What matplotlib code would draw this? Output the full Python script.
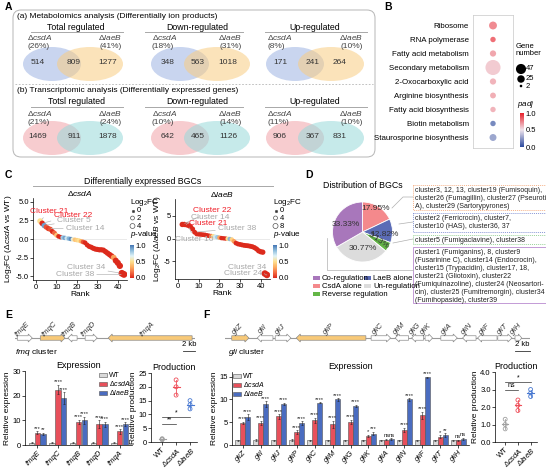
import numpy as np
import matplotlib
matplotlib.use('Agg')
import matplotlib.pyplot as plt
from matplotlib.patches import Ellipse, FancyBboxPatch, Rectangle, FancyArrow
from matplotlib.colors import LinearSegmentedColormap, Normalize
from matplotlib.cm import ScalarMappable

plt.rcParams['font.family'] = ['Liberation Sans', 'DejaVu Sans']
plt.rcParams['font.size'] = 5.5
plt.rcParams['mathtext.fontset'] = 'custom'
plt.rcParams['mathtext.rm'] = 'Liberation Sans'
plt.rcParams['mathtext.it'] = 'Liberation Sans:italic'
plt.rcParams['axes.linewidth'] = 0.5

# ---------------- data ----------------
venn_titles_a = ['Total regulated', 'Down-regulated', 'Up-regulated']
venn_titles_b = ['Totsl regulated', 'Down-regulated', 'Up-regulated']
metab_counts = [(514, 809, 1277), (348, 563, 1018), (171, 241, 264)]
metab_pct = [(26, 41), (18, 31), (8, 10)]
trans_counts = [(1469, 911, 1878), (642, 465, 1126), (906, 367, 831)]
trans_pct = [(21, 24), (10, 14), (11, 10)]

kegg_terms = ['Ribosome', 'RNA polymerase', 'Fatty acid metabolism', 'Secondary metabolism',
              '2-Oxocarboxylic acid', 'Arginine biosynthesis', 'Fatty acid biosynthesis',
              'Biotin metabolism', 'Staurosporine biosynthesis']
kegg_genes = [12, 5, 7, 47, 7, 6, 5, 5, 9]
kegg_padj = [0.85, 0.95, 0.75, 0.62, 0.7, 0.72, 0.7, 0.05, 0.18]

rank = np.arange(2, 44)
fc_csda = [2.4, 2.1, 1.8, 1.6, 1.4, 1.3, 1.0, 0.8, 0.5, 0.35, 0.25, 0.2, 0.15, 0.1,
           0.05, 0.0, -0.05, -0.1, -0.15, -0.2, -0.3, -0.4, -0.5, -0.8, -1.0, -1.1,
           -1.25, -1.35, -1.4, -1.45, -1.45, -1.5, -1.7, -1.9, -2.1, -2.3, -2.5, -2.9,
           -3.2, -3.6, -4.6, -4.75]
p_csda = [0.5, 0.0, 0.9, 0.1, 0.05, 0.1, 0.0, 0.15, 0.4, 0.0, 0.0, 0.8, 0.9, 0.7,
          0.85, 0.95, 0.6, 0.4, 0.45, 0.5, 0.35, 0.1, 0.0, 0.0, 0.0, 0.0,
          0.0, 0.0, 0.0, 0.0, 0.0, 0.0, 0.0, 0.0, 0.0, 0.0, 0.3, 0.0,
          0.0, 0.0, 0.0, 0.0]
fc_laeb = [3.1, 3.1, 3.05, 2.9, 2.6, 2.1, 1.4, 1.0, 0.95, 0.9, 0.85, 0.8, 0.7, 0.6,
           0.55, 0.5, 0.4, 0.3, 0.2, 0.1, 0.05, 0.0, -0.05, -0.1, -0.2, -0.6,
           -1.0, -1.2, -1.3, -1.4, -1.5, -1.55, -1.6, -1.7, -1.8, -2.0, -2.3, -2.7,
           -2.9, -3.0, -7.7, -8.0]
p_laeb = [0.0, 0.0, 0.0, 0.0, 0.0, 0.0, 0.0, 0.0, 0.0, 0.0, 0.0, 0.0, 0.0, 0.0,
          0.2, 0.5, 0.7, 0.8, 0.3, 0.0, 0.0, 0.0, 0.5, 0.85, 0.45, 0.3,
          0.0, 0.0, 0.0, 0.0, 0.0, 0.0, 0.0, 0.0, 0.0, 0.0, 0.0, 0.0,
          0.0, 0.0, 0.0, 0.0]
notes_csda = [('Cluster 21', 2, 'r', (6.5, 3.7)), ('Cluster 22', 3, 'r', (18, 3.2)),
              ('Cluster 5', 4, 'g', (18.5, 2.5)), ('Cluster 14', 6, 'g', (24, 1.45)),
              ('Cluster 34', 42, 'g', (24.5, -3.85)), ('Cluster 38', 43, 'g', (19, -4.8))]
notes_laeb = [('Cluster 22', 2, 'r', (16.7, 6.1)), ('Cluster 14', 3, 'g', (15.7, 4.6)),
              ('Cluster 21', 4, 'r', (14.8, 3.3)), ('Cluster 38', 8, 'g', (28.6, 2.2)),
              ('Cluster 10', 5, 'g', (7.6, -0.1)), ('Cluster 34', 42, 'g', (33.3, -6.3)),
              ('Cluster 24', 43, 'g', (31.4, -7.6))]

pie_labels = ['CsdA alone', 'LaeB alone', 'Reverse regulation', 'Un-regulation', 'Co-regulation']
pie_values = [17.95, 12.82, 5.13, 30.77, 33.33]
pie_colors = ['#f4898c', '#5b6cb6', '#63b646', '#dcdcdc', '#a877bb']
box_texts = ['cluster3, 12, 13, cluster19 (Fumisoquin),\ncluster26 (Fumagillin), cluster27 (Pseurotin\nA), cluster29 (Sartorypyrones)',
             'cluster2 (Ferricrocin), cluster7,\ncluster10 (HAS), cluster36, 37',
             'cluster5 (Fumigaclavine), cluster38',
             'cluster1 (Fumiganins), 8, cluster9\n(Fusarinine C), cluster14 (Endocrocin),\ncluster15 (Trypacidin), cluster17, 18,\ncluster21 (Gliotoxin), cluster22\n(Fumiquinazoline), cluster24 (Neosartori-\ncin), cluster25 (Fumitremorgin), cluster34\n(Fumihopaside), cluster39']

fmq_genes = ['fmqE', 'fmqC', 'fmqB', 'fmqD', 'fmqA']
fmq_start = [0.4, 4.4, 9.2, 12.2, 16.2]
fmq_end = [3.0, 8.7, 10.8, 14.3, 30.8]
fmq_strand = [1, 1, -1, 1, -1]
fmq_core = [0, 1, 0, 0, 1]
fmq_wt = [1.0, 1.0, 1.0, 1.0, 1.0]
fmq_csda = [5.0, 22.5, 9.5, 8.5, 5.5]
fmq_laeb = [4.5, 19.0, 10.0, 8.5, 8.5]
fmq_sd_wt = [0.2, 0.3, 0.2, 0.2, 0.2]
fmq_sd_csda = [0.6, 2.0, 0.8, 1.5, 1.0]
fmq_sd_laeb = [0.4, 2.5, 1.5, 1.0, 0.8]
fmq_star_csda = ['***', '****', '****', '****', '****']
fmq_star_laeb = ['**', '****', '****', '****', '****']
fmq_prod = [[0.8, 1.0, 1.2], [17.0, 20.0, 22.5], [12.0, 13.5, 15.0]]

gli_genes = ['gliZ', 'gliI', 'gliJ', 'gliP', 'gliC', 'gliM', 'gliG', 'gliK', 'gliA',
             'gliN', 'gliF', 'gliT', 'gliH']
gli_start = [0.9, 4.3, 6.7, 9.5, 19.5, 22.7, 24.9, 26.7, 28.8, 31.7, 33.7, 36.4, 38.7]
gli_end = [3.2, 6.4, 8.8, 18.8, 22.1, 24.5, 26.5, 27.7, 31.0, 33.5, 36.3, 38.3, 39.6]
gli_strand = [1, -1, 1, -1, 1, -1, -1, 1, 1, -1, -1, 1, 1]
gli_core = [1, 0, 0, 1, 0, 0, 0, 0, 0, 0, 0, 0, 0]
gli_wt = [1.0, 1.1, 1.0, 1.1, 1.0, 1.0, 1.0, 1.0, 1.0, 1.0, 1.0, 1.0, 1.0]
gli_csda = [4.8, 4.8, 6.3, 2.8, 5.4, 4.5, 5.0, 2.0, 1.2, 3.3, 6.5, 1.8, 1.0]
gli_laeb = [6.1, 9.0, 9.0, 4.8, 9.3, 10.0, 8.6, 2.5, 1.3, 10.0, 14.8, 2.2, 1.3]
gli_sd_wt = [0.2] * 13
gli_sd_csda = [0.3, 0.5, 0.5, 0.4, 0.6, 0.8, 0.5, 0.3, 0.2, 0.5, 0.8, 0.3, 0.2]
gli_sd_laeb = [0.6, 0.6, 0.3, 0.4, 0.1, 0.3, 0.2, 0.4, 0.2, 0.3, 0.2, 0.4, 0.3]
gli_star_csda = ['****'] * 7 + ['*', 'ns', '****', '****', '*', 'ns']
gli_star_laeb = ['****'] * 7 + ['***', 'ns', '****', '****', '**', 'ns']
gli_prod = [[0.75, 1.0, 1.3], [1.8, 2.1, 2.4], [2.6, 2.8, 3.0]]

strain_labels = ['WT', 'Δ$\\it{csdA}$', 'Δ$\\it{laeB}$']
strain_colors = ['#d9d9d9', '#e8505b', '#4a6cc0']
dot_colors = ['#a0a0a0', '#ef4f5a', '#4a7ad2']

# ---------------- figure ----------------
W, H = 546, 469
fig = plt.figure(figsize=(W / 100, H / 100), dpi=100)


def px_axes(x0, y0, x1, y1):
    return fig.add_axes([x0 / W, 1 - y1 / H, (x1 - x0) / W, (y1 - y0) / H])


def style(ax):
    ax.tick_params(labelsize=5.5, length=2, width=0.5, pad=1)
    for s in ['top', 'right']:
        ax.spines[s].set_visible(False)


ov = fig.add_axes([0, 0, 1, 1])
ov.set_xlim(0, W)
ov.set_ylim(H, 0)
ov.axis('off')

for lab, x, y in [('A', 5, 7), ('B', 384, 7), ('C', 5, 175), ('D', 305, 175), ('E', 5, 315), ('F', 203, 315)]:
    ov.text(x, y, lab, fontsize=7.5, fontweight='bold', va='center')

# ---------------- A: venns ----------------
ov.add_patch(FancyBboxPatch((13, 10), 362, 147, boxstyle='round,pad=0,rounding_size=8',
                            fc='none', ec='#b5b5b5', lw=0.7))
ov.plot([15, 373], [84, 84], color='#b5b5b5', lw=0.6, ls=(0, (2, 2)))
ov.text(17, 16, '(a) Metabolomics analysis (Differentially ion products)', fontsize=6, va='center')
ov.text(17, 91, '(b) Transcriptomic analysis (Differentially expressed genes)', fontsize=6, va='center')

col_title_x = [76, 197, 315]
col_line = [(31, 123), (145, 243), (265, 367)]
col_ell = [(52, 90), (180, 217), (295, 331)]
col_num = [(38, 74, 108), (168, 198, 228), (280, 313, 340)]
col_lab = [(27, 122), (152, 242), (267, 363)]
rows = [
    dict(titles=venn_titles_a, counts=metab_counts, pct=metab_pct, ty=27, ly=32, ny=64,
         c1='#9db3e3', c2='#f9cd82'),
    dict(titles=venn_titles_b, counts=trans_counts, pct=trans_pct, ty=102, ly=107, ny=138,
         c1='#f2a2a9', c2='#97d9da'),
]
for r in rows:
    for i in range(3):
        ov.text(col_title_x[i], r['ty'], r['titles'][i], fontsize=6.3, ha='center', va='center')
        ov.plot(col_line[i], [r['ly'], r['ly']], color='#a8a8a8', lw=0.7)
        ov.add_patch(Ellipse((col_ell[i][0], r['ny']), 58, 34, fc=r['c1'], alpha=0.55, lw=0))
        ov.add_patch(Ellipse((col_ell[i][1], r['ny']), 66, 34, fc=r['c2'], alpha=0.55, lw=0))
        for x, v in zip(col_num[i], r['counts'][i]):
            ov.text(x, r['ny'] - 1, str(v), fontsize=6, ha='center', va='center', color='#333333')
        ov.text(col_lab[i][0], r['ly'] + 6, 'Δ$\\it{csdA}$', fontsize=6, va='center', color='#444444')
        ov.text(col_lab[i][0], r['ly'] + 15, '(%d%%)' % r['pct'][i][0], fontsize=6, va='center', color='#444444')
        ov.text(col_lab[i][1], r['ly'] + 6, 'Δ$\\it{laeB}$', fontsize=6, va='center', ha='right', color='#444444')
        ov.text(col_lab[i][1], r['ly'] + 15, '(%d%%)' % r['pct'][i][1], fontsize=6, va='center', ha='right', color='#444444')

# ---------------- B: KEGG bubbles ----------------
padj_cmap = LinearSegmentedColormap.from_list('padj', ['#2b4a9e', '#efe4ec', '#e8202a'])
ax_b = px_axes(473, 15, 513, 148)
gsize = lambda n: 3 + 115 * np.asarray(n) / 47.0
ax_b.scatter(np.ones(len(kegg_terms)), np.arange(len(kegg_terms)), s=gsize(kegg_genes),
             c=kegg_padj, cmap=padj_cmap, vmin=0, vmax=1, alpha=0.7, edgecolors='none')
ax_b.set_xlim(0, 2)
ax_b.set_ylim(len(kegg_terms) - 0.25, -0.75)
ax_b.set_xticks([])
ax_b.set_yticks(np.arange(len(kegg_terms)))
ax_b.set_yticklabels(kegg_terms)
ax_b.tick_params(labelsize=5.7, length=0, pad=3)
for s in ax_b.spines.values():
    s.set_color('#c8c8c8')
ov.text(516, 50, 'Gene\nnumber', fontsize=5.5, va='center', linespacing=1.1)
for n, y in zip([47, 25, 2], [69, 79, 86]):
    ov.scatter([521], [y], s=0.45 * gsize(n), color='black', edgecolors='none')
    ov.text(526, y, str(n), fontsize=5.5, va='center')
ov.text(517, 104, '$\\it{padj}$', fontsize=5.8, va='center')
cax_b = px_axes(520, 113, 524, 147)
cb = fig.colorbar(ScalarMappable(Normalize(0, 1), padj_cmap), cax=cax_b, ticks=[0, 0.5, 1])
cb.outline.set_visible(False)
cb.ax.tick_params(labelsize=5.5, length=0, pad=1)
cb.ax.set_yticklabels(['0.0', '0.5', '1.0'])

# ---------------- C: BGC rank plots ----------------
ov.text(143, 181, 'Differentially expressed BGCs', fontsize=6.3, ha='center', va='center')
ov.plot([33, 273], [186, 186], color='#a8a8a8', lw=0.7)
pcmap = LinearSegmentedColormap.from_list('pv', ['#dc2a1c', '#f46d43', '#fdae61', '#fee090',
                                                 '#e0f3f8', '#8fbedc', '#4575b4'])


def rank_plot(ax, fc, pv, notes, ylim, yt, ytl, gene, kfc):
    fc = np.asarray(fc)
    ax.axhline(0, color='#e6e6e6', lw=0.6, zorder=0)
    ax.scatter(rank, fc, s=10 + kfc * np.abs(fc), c=pv, cmap=pcmap, vmin=0, vmax=1,
               edgecolors='none', zorder=2)
    for lab, rk, col, pos in notes:
        ax.annotate(lab, xy=(rk, fc[rk - 2]), xytext=pos, ha='center', va='center', fontsize=6,
                    color='#f0202a' if col == 'r' else '#a8a8a8',
                    arrowprops=dict(arrowstyle='-', color='#b8b8b8', lw=0.5, shrinkA=0, shrinkB=2))
    ax.set_xlim(-1.5, 44.5)
    ax.set_ylim(*ylim)
    ax.set_xticks([0, 10, 20, 30, 40])
    ax.set_yticks(yt)
    ax.set_yticklabels(ytl)
    style(ax)
    ax.set_xlabel('Rank', fontsize=6, labelpad=0)
    ax.set_ylabel('Log$_2$FC (Δ$\\it{%s}$ vs WT)' % gene, fontsize=6, labelpad=1)
    ax.set_title('Δ$\\it{%s}$' % gene, fontsize=6, pad=0.5)


ax_c1 = px_axes(33, 198, 127, 280)
rank_plot(ax_c1, fc_csda, p_csda, notes_csda, (-5.5, 5.5), [-5, -2.5, 0, 2.5, 5],
          ['-5.0', '-2.5', '0.0', '2.5', '5.0'], 'csdA', 3.0)
ax_c2 = px_axes(175, 199, 270, 279)
rank_plot(ax_c2, fc_laeb, p_laeb, notes_laeb, (-8.9, 8.7), [-5, 0, 5], ['-5', '0', '5'], 'laeB', 1.6)

for x0, levels, kfc in [(130, [0, 2, 4], 3.0), (273, [0, 4, 8], 1.6)]:
    ov.text(x0, 202, 'Log$_2$FC', fontsize=5.8, va='center')
    for v, y in zip(levels, [211, 218, 226]):
        ov.scatter([x0 + 2.5], [y], s=3 + 0.8 * kfc * v, facecolors='none' if v else '#333333',
                   edgecolors='#555555', lw=0.5)
        ov.text(x0 + 7, y, str(v), fontsize=5.5, va='center')
    ov.text(x0, 235, '$\\it{p}$-value', fontsize=5.8, va='center')
    cax = px_axes(x0, 245, x0 + 4, 278)
    cbc = fig.colorbar(ScalarMappable(Normalize(0, 1), pcmap), cax=cax, ticks=[0, 0.5, 1])
    cbc.outline.set_visible(False)
    cbc.ax.tick_params(labelsize=5.5, length=0, pad=1)
    cbc.ax.set_yticklabels(['0.0', '0.5', '1.0'])

# ---------------- D: pie ----------------
ov.text(363, 185, 'Distribution of BGCs', fontsize=6.3, ha='center', va='center')
ax_d = px_axes(325, 194, 400, 270)
ax_d.set_facecolor('none')
wedges, _, autot = ax_d.pie(pie_values, colors=pie_colors, startangle=90, counterclock=False,
                            autopct='%.2f%%', pctdistance=0.6,
                            wedgeprops=dict(edgecolor='white', lw=0.6),
                            textprops=dict(fontsize=6, color='#333333'))
ax_d.set_aspect('equal')
autot[0].set_position((0.45, 0.78))
autot[1].set_position((0.74, -0.1))
autot[2].set_position((0.52, -0.3))
autot[2].set_rotation(-35)
autot[3].set_position((0.0, -0.55))
autot[4].set_position((-0.55, 0.25))

box_y = [(185, 210), (213, 232), (235, 244), (247, 303)]
box_ec = ['#f6b38a', '#8a98d6', '#9ad49a', '#c39ad6']
box_ls = [(0, (1, 1)), (0, (1, 1)), (0, (1, 1)), '-']
for (y0, y1), ec, ls, t in zip(box_y, box_ec, box_ls, box_texts):
    ov.add_patch(Rectangle((413, y0), 134, y1 - y0, fc='none', ec=ec, lw=0.7, ls=ls))
    ov.text(415, y0 + 1.5, t, fontsize=5.0, va='top', linespacing=1.2, color='#222222')
ov.plot([392, 403, 413], [208, 197, 197], color='#b0b0b0', lw=0.5)
ov.plot([399, 413], [224, 222], color='#b0b0b0', lw=0.5)
ov.plot([393, 413], [243, 239], color='#b0b0b0', lw=0.5)
ov.plot([327, 327, 413], [238, 270, 270], color='#b0b0b0', lw=0.5)

leg_pos = {4: (313, 278), 0: (313, 286), 2: (313, 294), 1: (364, 278), 3: (364, 286)}
for i, (x, y) in leg_pos.items():
    ov.add_patch(Rectangle((x, y - 2), 7, 4, fc=pie_colors[i], lw=0))
    ov.text(x + 9, y, pie_labels[i], fontsize=5.6, va='center')


# ---------------- E / F ----------------
def draw_cluster(ax, names, starts, ends, strands, core, length, hl):
    ax.plot([0, length], [0, 0], color='#9a9a9a', lw=0.8, zorder=1)
    for n, s, e, d, c in zip(names, starts, ends, strands, core):
        x0 = s if d > 0 else e
        ax.add_patch(FancyArrow(x0, 0, d * (e - s), 0, width=0.9, head_width=1.6,
                                head_length=min(hl, 0.5 * (e - s)), length_includes_head=True,
                                fc='#f8c978' if c else 'white', ec='#8c8c8c', lw=0.5, zorder=2))
        ax.text((s + e) / 2, 1.3, n, rotation=45, style='italic', fontsize=5.5, ha='center',
                va='bottom', rotation_mode='anchor', clip_on=False, color='#333333')
    ax.plot([length - 2, length], [-2.6, -2.6], color='#333333', lw=0.6, clip_on=False)
    ax.text(length - 1, -1.9, '2 kb', fontsize=5.5, ha='center', va='bottom', clip_on=False)
    ax.set_xlim(0, length)
    ax.set_ylim(-1, 1)
    ax.axis('off')


def expr_plot(ax, genes, vals, sds, stars, ylim, yt, lg_loc):
    x = np.arange(len(genes))
    offs = [-0.28, 0, 0.28]
    bars = []
    for k in range(3):
        b = ax.bar(x + offs[k], vals[k], 0.26, color=strain_colors[k], edgecolor='#555555', lw=0.4,
                   yerr=sds[k], error_kw=dict(lw=0.4, capsize=0.8, capthick=0.4, ecolor='#222222'))
        bars.append(b)
    for k in (1, 2):
        for i in range(len(genes)):
            ax.text(x[i] + offs[k], vals[k][i] + sds[k][i] + ylim * 0.005, stars[k - 1][i],
                    ha='center', va='bottom', fontsize=4.2, color='#222222')
    ax.set_xlim(-0.6, len(genes) - 0.4)
    ax.set_ylim(0, ylim)
    ax.set_yticks(yt)
    ax.set_xticks(x)
    ax.set_xticklabels(genes, rotation=45, style='italic', ha='right', rotation_mode='anchor')
    style(ax)
    ax.set_ylabel('Relative expression', fontsize=6, labelpad=1)
    ax.set_title('Expression', fontsize=6.5, pad=2)
    ax.legend(bars, strain_labels, loc=lg_loc, frameon=False, fontsize=5.0, handlelength=1.2,
              handleheight=0.5, labelspacing=0.02, handletextpad=0.3, borderaxespad=0.1,
              borderpad=0.05)


def prod_plot(ax, reps, ylim, yt, ytl, sig):
    for i, r in enumerate(reps):
        ax.scatter([i] * len(r), r, s=8, facecolors='none', edgecolors=dot_colors[i], lw=0.6)
        m, sd = np.mean(r), np.std(r, ddof=1)
        ax.plot([i - 0.25, i + 0.25], [m, m], color=dot_colors[i], lw=0.8)
        ax.plot([i, i], [m - sd, m + sd], color=dot_colors[i], lw=0.6)
    for j, y, t in sig:
        ax.plot([0, j], [y, y], color='#333333', lw=0.5)
        ax.text(j / 2, y + ylim * 0.01, t, ha='center', va='bottom', fontsize=5)
    ax.set_xlim(-0.8, 2.5)
    ax.set_ylim(0, ylim)
    ax.set_yticks(yt)
    ax.set_yticklabels(ytl)
    ax.set_xticks([0, 1, 2])
    ax.set_xticklabels(strain_labels, rotation=45, ha='right', rotation_mode='anchor', fontsize=5.0)
    style(ax)
    ax.set_ylabel('Relative production', fontsize=6, labelpad=1)
    ax.set_title('Production', fontsize=6.5, pad=2)


ax_g1 = px_axes(15, 333, 195, 343)
draw_cluster(ax_g1, fmq_genes, fmq_start, fmq_end, fmq_strand, fmq_core, 31.3, 0.7)
ov.text(15, 353, '$\\it{fmq}$ cluster', fontsize=6, va='center')
ax_e1 = px_axes(25, 371, 132, 445)
expr_plot(ax_e1, fmq_genes, [fmq_wt, fmq_csda, fmq_laeb], [fmq_sd_wt, fmq_sd_csda, fmq_sd_laeb],
          [fmq_star_csda, fmq_star_laeb], 30, [0, 10, 20, 30], 'upper right')
ax_e2 = px_axes(151, 373, 197, 442)
prod_plot(ax_e2, fmq_prod, 25, [0, 5, 10, 15, 20, 25], ['0', '5', '10', '15', '20', '25'],
          [(1, 6.5, '**'), (2, 8.9, '*')])

ax_g2 = px_axes(225, 333, 530, 343)
draw_cluster(ax_g2, gli_genes, gli_start, gli_end, gli_strand, gli_core, 40.7, 0.55)
ov.text(228, 353, '$\\it{gli}$ cluster', fontsize=6, va='center')
ax_f1 = px_axes(232, 372, 469, 445)
expr_plot(ax_f1, gli_genes, [gli_wt, gli_csda, gli_laeb], [gli_sd_wt, gli_sd_csda, gli_sd_laeb],
          [gli_star_csda, gli_star_laeb], 16, [0, 5, 10, 15], 'upper left')
ax_f2 = px_axes(495, 372, 537, 442)
prod_plot(ax_f2, gli_prod, 4.0, [0, 1, 2, 3, 4], ['0.0', '1.0', '2.0', '3.0', '4.0'],
          [(1, 3.0, 'ns'), (2, 3.45, '*')])

fig.savefig('out.png', dpi=100)
